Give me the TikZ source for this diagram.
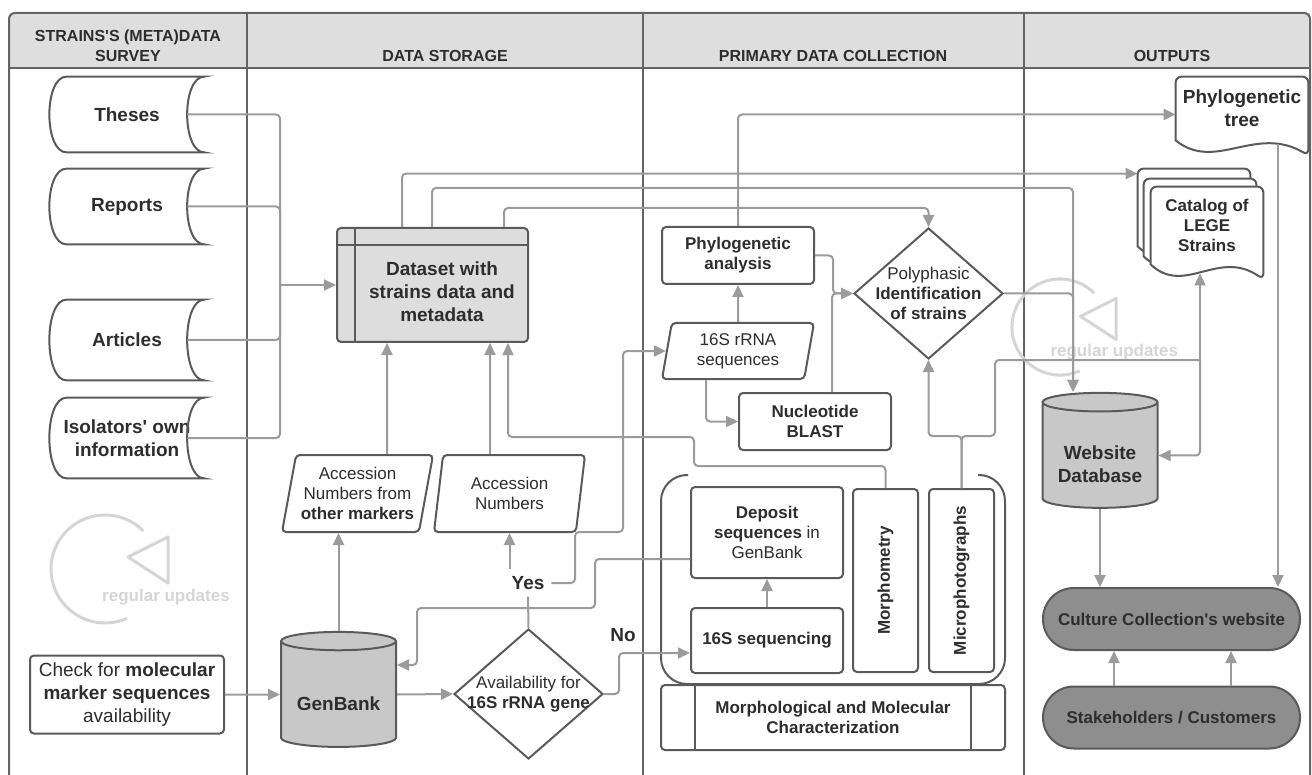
\documentclass[tikz,border=0pt]{standalone}
\usepackage{fontspec}
\setmainfont{Liberation Sans}
\usetikzlibrary{positioning,shapes.geometric,arrows.meta,calc}
\pgfdeclarelayer{background}
\pgfsetlayers{background,main}
\definecolor{framegray}{RGB}{100,100,100}
\definecolor{boxgray}{RGB}{90,90,90}
\definecolor{linegray}{RGB}{155,155,155}
\definecolor{headgray}{RGB}{222,222,222}
\definecolor{datagray}{RGB}{221,221,221}
\definecolor{cylgray}{RGB}{200,200,200}
\definecolor{pillgray}{RGB}{142,142,142}
\definecolor{textgray}{RGB}{45,45,45}
\definecolor{updgray}{RGB}{213,213,213}

% document shape (wavy bottom) drawn behind a node
\newcommand{\docshape}[1]{%
  \begin{pgfonlayer}{background}
  \draw[boxline, fill=white] (#1.south west) [rounded corners=3pt] -- (#1.north west) -- (#1.north east)
    -- ([yshift=-7.5pt]#1.south east) [sharp corners]
    .. controls ([yshift=8pt]$(#1.south west)!0.6!(#1.south east)$) and ([yshift=-16pt]$(#1.south west)!0.3!(#1.south east)$) .. (#1.south west) -- cycle;
  \end{pgfonlayer}}

% circular "regular updates" mark
\newcommand{\updicon}[4]{%
  \begin{scope}[shift={(#2,#3)}, scale=#4]
    \draw[updline] (-45:54) arc[start angle=-45, end angle=-294, radius=54];
    \draw[updline, line join=round] (23,-12) -- (63,-32) -- (63,14) -- cycle;
    \node[updtext] (#1) at (61,28) {regular updates};
  \end{scope}}

\newcommand{\apos}{\textquotesingle}

\begin{document}
\begin{tikzpicture}[x=0.5pt, y=-0.5pt,
  bigfont/.style={font=\fontsize{9.5}{11.5}\selectfont},
  bigbold/.style={font=\fontsize{9.5}{11.5}\selectfont\bfseries},
  smallfont/.style={font=\fontsize{8.5}{10}\selectfont},
  smallbold/.style={font=\fontsize{8.5}{10}\selectfont\bfseries},
  frameline/.style={draw=framegray, line width=1pt},
  boxline/.style={draw=boxgray, line width=1pt},
  conn/.style={draw=linegray, line width=1pt, rounded corners=2pt},
  arr/.style={conn, -{Triangle[length=6pt,width=5.5pt]}},
  headtext/.style={font=\fontsize{8}{10}\selectfont\bfseries, text=textgray, align=center},
  stored/.style={bigbold, text=textgray, align=center, minimum width=77pt, minimum height=37.5pt, inner sep=0pt},
  procbox/.style={boxline, rectangle, rounded corners=2pt, fill=white, text=textgray, align=center, inner sep=1pt},
  para/.style={trapezium, trapezium left angle=76, trapezium right angle=104, trapezium stretches body,
    boxline, rounded corners=2pt, fill=white, text=textgray, align=center, inner sep=1pt,
    minimum width=75.5pt, minimum height=38.5pt},
  decision/.style={diamond, boxline, fill=white, inner sep=0pt, minimum width=74.5pt, minimum height=65pt},
  cyl/.style={cylinder, shape border rotate=90, aspect=0.22, boxline, fill=cylgray, bigbold, align=center,
    inner sep=0pt, minimum width=57.5pt, minimum height=57.5pt},
  cyltext/.style={bigbold, text=textgray, align=center, yshift=-4.5pt},
  docnode/.style={text=textgray, align=center, inner sep=0pt},
  pill/.style={rectangle, rounded corners=15.4pt, boxline, fill=pillgray, text=textgray,
    minimum width=128.5pt, minimum height=31pt, smallbold},
  lbl/.style={bigbold, text=textgray},
  updline/.style={draw=updgray, line width=1.5pt},
  updtext/.style={smallbold, text=updgray}]

\useasboundingbox (0,0) rectangle (1312,775);

% lanes
\fill[headgray] (9,13) rectangle (1310,68);
\draw[frameline, rounded corners=3pt] (9,775) |- (1310,13) -- (1310,775);
\draw[frameline] (9,68) -- (1310,68);
\foreach \x in {247,643,1024}
  \draw[frameline] (\x,13) -- (\x,775);
\node[headtext] (hsurvey) at (128,46) {STRAINS\apos S (META)DATA\\SURVEY};
\node[headtext] (hstorage) at (445,56) {DATA STORAGE};
\node[headtext] (hprimary) at (833,56) {PRIMARY DATA COLLECTION};
\node[headtext] (houtputs) at (1172,56) {OUTPUTS};

\updicon{updleft}{105}{569}{1}
\updicon{updright}{1060}{327}{0.89}

% survey
\node[stored] (theses) at (127,114.5) {Theses};
\node[stored] (reports) at (127,206.5) {Reports};
\node[stored, minimum height=40pt] (articles) at (127,340) {Articles};
\node[stored, minimum height=40pt] (isolators) at (127,438) {Isolators\apos{} own\\information};
\foreach \n in {theses,reports,articles,isolators}
  \draw[boxline] ([xshift=8.5pt]\n.north west) -- (\n.north east) .. controls +(-23,0) and +(-23,0) .. (\n.south east)
    -- ([xshift=8.5pt]\n.south west) .. controls +(-23,0) and +(-23,0) .. ([xshift=8.5pt]\n.north west) -- cycle;
\node[procbox, bigfont, minimum width=97pt, minimum height=39pt] (check) at (127,694.5) {Check for \textbf{molecular}\\\textbf{marker sequences}\\availability};

% storage
\node[procbox, fill=datagray, minimum width=95.5pt, minimum height=57pt,
  label={[bigbold, text=textgray, align=center, xshift=4.75pt, yshift=-3.5pt]center:Dataset with\\strains data and\\metadata}] (dataset) at (432.5,285) {};
\draw[boxline] ([xshift=9.5pt]dataset.north west) -- ([xshift=9.5pt]dataset.south west);
\draw[boxline] ([yshift=-9pt]dataset.north west) -- ([yshift=-9pt]dataset.north east);
\node[para, smallfont] (accother) at (357.5,493.5) {Accession\\Numbers from\\\textbf{other markers}};
\node[para, smallfont] (accnum) at (509.5,493.5) {Accession\\Numbers};
\node[cyl, label={[cyltext]center:GenBank}] (genbank) at (338.5,694.5) {\phantom{GenBank}};
\node[decision, label={[smallfont, text=textgray, align=center]center:Availability for\\\textbf{16S rRNA gene}}] (avail) at (528.5,694) {};
\node[lbl] (yes) at (528,583) {Yes};
\node[lbl] (no) at (623,635) {No};

% primary data collection
\node[procbox, smallbold, minimum width=76pt, minimum height=28.5pt] (phyan) at (738,255.5) {Phylogenetic\\analysis};
\node[para, smallfont, minimum width=76pt, minimum height=28pt] (rrna) at (738,351) {16S rRNA\\sequences};
\node[procbox, smallbold, minimum width=76pt, minimum height=28.5pt] (blast) at (815,421.5) {Nucleotide\\BLAST};
\node[decision, minimum height=65.5pt, label={[smallfont, text=textgray, align=center]center:Polyphasic\\\textbf{Identification}\\\textbf{of strains}}] (poly) at (928.5,293.5) {};
\draw[boxline, rounded corners=13pt] (688,475) -- (661,475) -- (661,684) -- (1005,684) -- (1005,475) -- (978,475);
\node[procbox, smallfont, minimum width=76pt, minimum height=45.5pt] (deposit) at (767,532.5) {\textbf{Deposit}\\\textbf{sequences} in\\GenBank};
\node[procbox, smallbold, minimum width=76pt, minimum height=32.5pt] (seq16) at (767,640.5) {16S sequencing};
\node[procbox, minimum width=32.5pt, minimum height=91.5pt, label={[smallbold, text=textgray, rotate=90]center:Morphometry}] (morph) at (885.5,580.5) {};
\node[procbox, minimum width=32.5pt, minimum height=91.5pt, label={[smallbold, text=textgray, rotate=90]center:Microphotographs}] (micro) at (961.5,580.5) {};
\node[procbox, smallbold, minimum width=172pt, minimum height=32.5pt] (morphmol) at (833,717.5) {Morphological and Molecular\\Characterization};
\draw[boxline] ([xshift=17.5pt]morphmol.north west) -- ([xshift=17.5pt]morphmol.south west);
\draw[boxline] ([xshift=-17.5pt]morphmol.north east) -- ([xshift=-17.5pt]morphmol.south east);

% outputs
\node[docnode, bigbold, minimum width=66pt, minimum height=31.5pt] (phylotree) at (1242,108.5) {Phylogenetic\\tree};
\docshape{phylotree}
\node[docnode, minimum width=56pt, minimum height=38.5pt] (cat3) at (1194,207.5) {};
\docshape{cat3}
\node[docnode, minimum width=56pt, minimum height=38.5pt] (cat2) at (1200,217.5) {};
\docshape{cat2}
\node[docnode, smallbold, minimum width=56pt, minimum height=38.5pt] (catalog) at (1207,225.5) {Catalog of\\LEGE\\Strains};
\docshape{catalog}
\node[cyl, label={[cyltext]center:Website\\Database}] (webdb) at (1100,455.5) {\phantom{Database}\\\phantom{Database}};
\node[pill] (culture) at (1171.5,619) {Culture Collection\apos s website};
\node[pill] (stake) at (1171.5,717.5) {Stakeholders / Customers};

% connectors
\coordinate (merge) at (280,285);
\foreach \n in {theses,reports,articles,isolators}
  \draw[conn] ([xshift=-8.5pt]\n.east) -| (merge);
\draw[arr] (merge) -- (dataset.west);
\draw[arr] ([shift={(66,0)}]dataset.north west) |- ([yshift=-2.5pt]cat3.north west);
\draw[arr] ([shift={(96,0)}]dataset.north west) -- ++(0,-39) -| ([xshift=-13.5pt]webdb.north);
\draw[arr] ([shift={(168,0)}]dataset.north west) -- ++(0,-19) -| (poly.north);
\draw[arr] ([xshift=14.75pt]accother.north) -- ([xshift=-22.75pt]dataset.south);
\draw[arr] ([xshift=-9.75pt]accnum.north) -- ([xshift=28.75pt]dataset.south);
\draw[arr] (morph.north) |- (694,466) |- (508,437) -- ([xshift=37.75pt]dataset.south);

\draw[arr] (check.east) -- (genbank.west);
\draw[arr] (genbank.north) -- (genbank.north |- accother.south);
\draw[arr] (genbank.east) -- (avail.west);
\draw[conn] (avail.north) -- (yes.south);
\draw[arr] (yes.north -| accnum.south) -- (accnum.south);
\draw[arr] (yes.east) -| (575,532) -| (623,351) -- (rrna.west);
\draw[arr] (avail.east) -- ++(15,0) |- ([yshift=-6.25pt]seq16.west);
\draw[arr] ([yshift=-13.25pt]deposit.west) -| (595,608) -| (417,665) -- ([yshift=14.75pt]genbank.east);
\draw[arr] (seq16.north) -- (deposit.south);

\draw[arr] (rrna.north) -- (phyan.south);
\draw[arr] ([xshift=-16pt]rrna.south) |- (blast.west);
\draw[arr] (phyan.east) -- ++(18,0) |- (poly.west);
\draw[arr] ([xshift=8.5pt]blast.north) |- (poly.west);
\draw[arr] (phyan.north) |- ([yshift=-3pt]phylotree.west);
\draw[arr] (micro.north) -- ++(0,-52) -| (poly.south);
\coordinate (split) at (1200,360);
\draw[conn] (micro.north) -- ++(0,-52) -| (995,360) -- (split);
\draw[arr] (split) -- ([xshift=-3.5pt,yshift=-4.5pt]catalog.south);
\draw[arr] (split) |- (webdb.east);
\draw[arr] (poly.east) -| ([xshift=-13.5pt]webdb.north);

\draw[arr] (webdb.south) -- (webdb.south |- culture.north);
\draw[arr] ([shift={(36,4)}]phylotree.south) -- ([xshift=53.25pt]culture.north);
\draw[arr] ([xshift=-28.75pt]stake.north) -- ([xshift=-28.75pt]culture.south);
\draw[arr] ([xshift=29.75pt]stake.north) -- ([xshift=29.75pt]culture.south);
\end{tikzpicture}
\end{document}
